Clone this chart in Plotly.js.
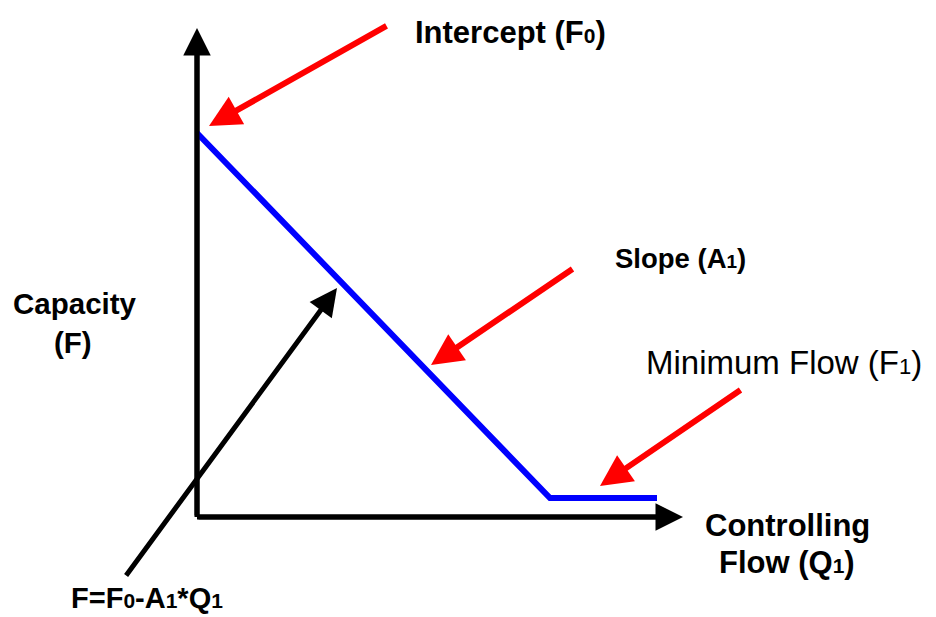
<!DOCTYPE html>
<html>
<head>
<meta charset="utf-8">
<script src="https://cdn.plot.ly/plotly-3.0.1.min.js"></script>
<style>html,body{margin:0;padding:0;background:#fff;}#chart{width:936px;height:617px;}</style>
</head>
<body>
<div id="chart"></div>
<script>
// Capacity curve (conceptual units: Q = controlling flow, F = capacity)
const curveQ = [0, 353, 460];
const curveF = [384, 19, 19];

// Axis extents (arrow tips)
const axisQ = [0, 0, 486];
const axisF = [489, 0, 0];

// Callout arrows: [tailQ, tailF, tipQ, tipF]
const redArrows = [
  [191, 492, 12, 391],   // intercept
  [377, 249, 234, 152],  // slope
  [545, 128, 403, 31]    // minimum flow
];
const formulaArrow = [-72, -60, 140, 229];

// Labels
function sb(d, s) { return '<span style="font-size:' + s + 'px">' + d + '</span>'; }
const labelText = ['Intercept (F' + sb('0', 21) + ')', 'Slope (A' + sb('1', 19) + ')', 'Minimum Flow (F' + sb('1', 22) + ')',
  'Capacity', '(F)', 'Controlling', 'Flow (Q' + sb('1', 21) + ')',
  'F=F' + sb('0', 21) + '-A' + sb('1', 21) + '*Q' + sb('1', 21)];
const labelQ = [313, 483, 587, -122, -124, 590, 590, -50];
const labelF = [485, 259, 155, 214, 175, -8, -45, -81];
const labelSize = [31, 27.5, 33, 29.5, 29.5, 31, 31, 29];
const labelBold = [true, true, false, true, true, true, true, true];

const traces = [
  {x: [0, 0, 0], y: [axisF[0] - 20, 0, 0], mode: 'lines', line: {color: '#000', width: 5}, hoverinfo: 'skip'},
  {x: [0, axisQ[2] - 20], y: [0, 0], mode: 'lines', line: {color: '#000', width: 5}, hoverinfo: 'skip'},
  {x: curveQ, y: curveF, mode: 'lines', line: {color: '#0000ff', width: 6}, hoverinfo: 'skip'}
];

const anns = [];
function arrow(tq, tf, hq, hf, color, size, w) {
  anns.push({x: hq, y: hf, ax: tq, ay: tf, xref: 'x', yref: 'y', axref: 'x', ayref: 'y',
    text: '', showarrow: true, arrowhead: 2, arrowsize: size, arrowwidth: w, arrowcolor: color, standoff: 0});
}
// axis heads
arrow(0, 0, axisQ[0], axisF[0], '#000', 1.1, 5);
arrow(0, 0, axisQ[2], axisF[2], '#000', 1.1, 5);
redArrows.forEach(a => arrow(a[0], a[1], a[2], a[3], '#ff0000', 1.05, 6));
arrow(formulaArrow[0], formulaArrow[1], formulaArrow[2], formulaArrow[3], '#000', 1.1, 5);

labelText.forEach((t, i) => {
  anns.push({x: labelQ[i], y: labelF[i], xref: 'x', yref: 'y', text: t, showarrow: false,
    xanchor: 'center', yanchor: 'middle',
    font: {family: 'Liberation Sans, Arial, sans-serif', size: labelSize[i], color: '#000',
      weight: labelBold[i] ? 'bold' : 'normal'}});
});

const layout = {
  width: 936, height: 617,
  margin: {l: 0, r: 0, t: 0, b: 0},
  paper_bgcolor: '#fff', plot_bgcolor: '#fff',
  showlegend: false,
  xaxis: {range: [-197, 739], visible: false, fixedrange: true},
  yaxis: {range: [-100, 517], visible: false, fixedrange: true},
  annotations: anns
};
Plotly.newPlot('chart', traces, layout, {staticPlot: true});
</script>
</body>
</html>
